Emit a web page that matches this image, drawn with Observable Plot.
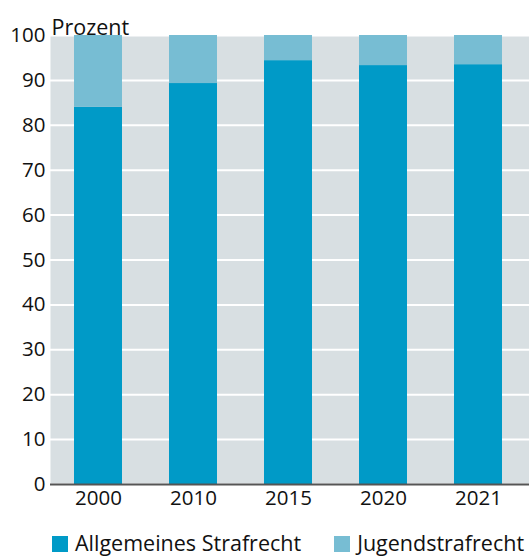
<!DOCTYPE html>
<html>
<head>
<meta charset="utf-8">
<script src="https://cdn.jsdelivr.net/npm/d3@7"></script>
<script src="https://cdn.jsdelivr.net/npm/@observablehq/plot@0.6"></script>
<style>
  html, body { margin: 0; padding: 0; background: #fff; }
  body { width: 529px; height: 556px; overflow: hidden; font-family: "Open Sans", "Noto Sans", sans-serif; }
  #legend { display: flex; align-items: center; white-space: nowrap; height: 44px; padding-top: 16px; box-sizing: border-box; margin-left: 52px; font-size: 21.5px; color: #111; }
  .item { display: flex; align-items: center; margin-right: 33px; }
  .sw { width: 16px; height: 16px; margin-right: 7px; display: inline-block; flex: none; position: relative; top: 2px; }
</style>
</head>
<body>
<div id="chart"></div>
<div id="legend"></div>
<script>
const years = ["2000", "2010", "2015", "2020", "2021"];
const categories = ["Allgemeines Strafrecht", "Jugendstrafrecht"];
const allgemein = [84.0, 89.3, 94.4, 93.3, 93.5];
const jugend = [16.0, 10.7, 5.6, 6.7, 6.5];
const colors = ["#009ac7", "#77bdd3"];
const yTicks = [0, 10, 20, 30, 40, 50, 60, 70, 80, 90, 100];
const yLabel = "Prozent";

const data = [];
years.forEach((y, i) => {
  data.push({year: y, category: categories[0], value: allgemein[i]});
  data.push({year: y, category: categories[1], value: jugend[i]});
});

const chart = Plot.plot({
  width: 529,
  height: 512,
  marginTop: 35,
  marginBottom: 28,
  marginLeft: 50,
  marginRight: 0,
  style: {fontFamily: "'Open Sans', 'Noto Sans', sans-serif", fontSize: "20.5px", color: "#111", background: "transparent"},
  x: {domain: years, range: [50, 526], paddingInner: 0.5, paddingOuter: 0.25, label: null},
  y: {domain: [0, 100], label: null},
  color: {domain: categories, range: colors},
  marks: [
    Plot.frame({fill: "#d8dfe2", stroke: null}),
    Plot.gridY(yTicks, {stroke: "#fff", strokeOpacity: 1, strokeWidth: 2}),
    Plot.barY(data, {x: "year", y: "value", fill: "category", order: categories}),
    Plot.ruleY([0], {stroke: "#555", strokeWidth: 2}),
    Plot.axisY(yTicks, {tickSize: 0, tickPadding: 5, fontSize: 20.5, label: null}),
    Plot.axisX({tickSize: 0, tickPadding: 6, fontSize: 20.5, label: null}),
    Plot.text([yLabel], {frameAnchor: "top-left", textAnchor: "start", dx: 1, dy: -16, fontSize: 21.5, fill: "#111"})
  ]
});
document.getElementById("chart").appendChild(chart);

const legend = document.getElementById("legend");
categories.forEach((c, i) => {
  const item = document.createElement("span");
  item.className = "item";
  const sw = document.createElement("span");
  sw.className = "sw";
  sw.style.background = colors[i];
  item.appendChild(sw);
  item.appendChild(document.createTextNode(c));
  legend.appendChild(item);
});
</script>
</body>
</html>
